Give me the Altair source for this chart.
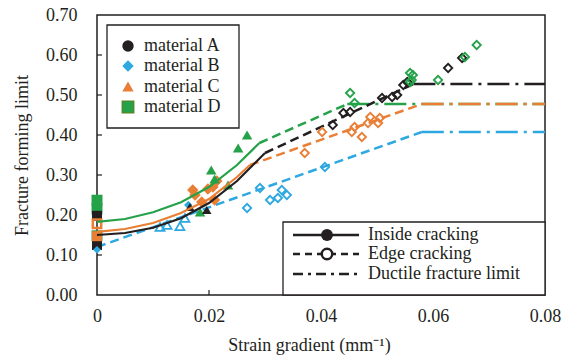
import altair as alt
import pandas as pd

FONT = "Liberation Serif"
BLACK = "#231F20"
BLUE = "#2DA8E0"
ORANGE = "#E97E35"
GREEN = "#25A249"

# ---- Inside cracking (solid curves) ----
a_in_x = [0, 0.005, 0.01, 0.015, 0.02, 0.025, 0.03]
a_in_y = [0.150, 0.155, 0.168, 0.192, 0.230, 0.285, 0.355]
c_in_x = [0, 0.005, 0.01, 0.015, 0.02, 0.025, 0.0273]
c_in_y = [0.158, 0.165, 0.180, 0.205, 0.240, 0.295, 0.325]
d_in_x = [0, 0.005, 0.01, 0.015, 0.02, 0.025, 0.029]
d_in_y = [0.183, 0.190, 0.207, 0.232, 0.270, 0.325, 0.380]

# ---- Edge cracking (dashed lines) ----
a_edge_x = [0.03, 0.0565]
a_edge_y = [0.355, 0.5275]
b_edge_x = [0.0, 0.058]
b_edge_y = [0.120, 0.4075]
c_edge_x = [0.0273, 0.058]
c_edge_y = [0.325, 0.4775]
d_edge_x = [0.029, 0.0447]
d_edge_y = [0.380, 0.4775]

# ---- Ductile fracture limit (dash-dot) ----
a_lim_x = [0.0565, 0.08]
a_lim_y = [0.5275, 0.5275]
b_lim_x = [0.058, 0.08]
b_lim_y = [0.4075, 0.4075]
c_lim_x = [0.058, 0.08]
c_lim_y = [0.4775, 0.4775]
d_lim_x = [0.0447, 0.08]
d_lim_y = [0.4775, 0.4775]

# ---- Markers at zero strain gradient ----
d_zero_y = [0.237, 0.215, 0.148]
a_zero_y = [0.198, 0.125]
c_zero_open_y = [0.178]
c_zero_y = [0.147]
b_zero_y = [0.113]

# ---- Inside cracking markers ----
c_in_px = [0.0171, 0.0175, 0.0187, 0.0198, 0.0210, 0.0214, 0.0207]
c_in_py = [0.2625, 0.250, 0.2325, 0.265, 0.2375, 0.285, 0.270]
d_in_px = [0.0184, 0.0204, 0.0210, 0.0234, 0.0252, 0.0268]
d_in_py = [0.2075, 0.3125, 0.290, 0.275, 0.3675, 0.400]
a_in_px = [0.0166, 0.0196]
a_in_py = [0.220, 0.2125]
b_in_px = [0.01125, 0.0125, 0.0148, 0.0157]
b_in_py = [0.170, 0.175, 0.172, 0.1925]
b_in_fx = [0.0163]
b_in_fy = [0.225]

# ---- Edge cracking markers ----
b_ed_x = [0.0268, 0.0291, 0.0309, 0.0323, 0.0330, 0.0339, 0.0407]
b_ed_y = [0.2175, 0.2675, 0.2375, 0.2425, 0.2625, 0.250, 0.320]
c_ed_x = [0.0371, 0.0402, 0.0455, 0.0460, 0.0473, 0.0484, 0.0488, 0.0502, 0.0505]
c_ed_y = [0.355, 0.4075, 0.4075, 0.420, 0.395, 0.430, 0.445, 0.430, 0.4425]
a_ed_x = [0.0421, 0.0440, 0.0452, 0.0509, 0.0527, 0.0536, 0.0547, 0.0554, 0.0627, 0.0652]
a_ed_y = [0.425, 0.455, 0.4575, 0.4925, 0.495, 0.500, 0.525, 0.5325, 0.5675, 0.5925]
d_ed_x = [0.0452, 0.0460, 0.0559, 0.0562, 0.0564, 0.0559, 0.0609, 0.0657, 0.0678]
d_ed_y = [0.505, 0.480, 0.555, 0.5375, 0.550, 0.5325, 0.5375, 0.595, 0.625]

# ---- Legends ----
mat_labels = ["material A", "material B", "material C", "material D"]
mat_colors = [BLACK, BLUE, ORANGE, GREEN]
mat_shapes = ["circle", "diamond", "triangle-up", "square"]
type_labels = ["Inside cracking", "Edge cracking", "Ductile fracture limit"]

x_tick_values = [0, 0.02, 0.04, 0.06, 0.08]
y_tick_values = [0, 0.1, 0.2, 0.3, 0.4, 0.5, 0.6, 0.7]
y_ticks = [0.1, 0.2, 0.3, 0.4, 0.5, 0.6]
x_ticks = [0.02, 0.04, 0.06]

W, H = 448, 280
xs = alt.Scale(domain=[0, 0.08], nice=False)
ys = alt.Scale(domain=[0, 0.7], nice=False)

AX = dict(grid=False, domain=False, ticks=False, labelFont=FONT, labelFontSize=18,
          labelColor=BLACK, titleFont=FONT, titleFontSize=18, titleColor=BLACK,
          titleFontWeight="normal", labelOverlap=False, labelFlush=False)

X_AXIS = alt.Axis(values=x_tick_values, labelPadding=12, titlePadding=11,
                  titleX=212, titleAlign="center",
                  labelExpr="datum.value == 0 ? '0' : format(datum.value, '.2f')", **AX)
Y_AXIS = alt.Axis(values=y_tick_values, format=".2f", labelPadding=20, titlePadding=14, **AX)


def df(x, y):
    return pd.DataFrame({"x": x, "y": y})


def enc_xy():
    return dict(
        x=alt.X("x:Q", scale=xs, axis=X_AXIS, title="Strain gradient (mm\u207b\u00b9)"),
        y=alt.Y("y:Q", scale=ys, axis=Y_AXIS, title="Fracture forming limit"),
    )


def line(x, y, color, dash=None, width=2.2):
    kw = dict(color=color, strokeWidth=width)
    if dash is not None:
        kw["strokeDash"] = dash
    return alt.Chart(df(x, y)).mark_line(**kw).encode(**enc_xy())


def pts(x, y, color, shape, filled=True, size=110, sw=1.8):
    if filled:
        m = alt.Chart(df(x, y)).mark_point(shape=shape, filled=True, color=color, size=size, opacity=1)
    else:
        m = alt.Chart(df(x, y)).mark_point(shape=shape, filled=False, color=color, size=size,
                                           strokeWidth=sw, opacity=1)
    return m.encode(**enc_xy())


DASH = [9, 5]
DASHDOT = [22, 6, 3, 6]

layers = []
# ductile limits
layers += [line(a_lim_x, a_lim_y, BLACK, DASHDOT, 2.4), line(b_lim_x, b_lim_y, BLUE, DASHDOT, 2.4),
           line(d_lim_x, d_lim_y, GREEN, DASHDOT, 2.4), line(c_lim_x, c_lim_y, ORANGE, DASHDOT, 2.4)]
# edge dashed
layers += [line(b_edge_x, b_edge_y, BLUE, DASH, 2.5), line(c_edge_x, c_edge_y, ORANGE, DASH, 2.5),
           line(a_edge_x, a_edge_y, BLACK, DASH, 2.5), line(d_edge_x, d_edge_y, GREEN, DASH, 2.5)]
# markers
zero = [0.0]
layers += [
    pts(zero * len(d_zero_y), d_zero_y, GREEN, "square", size=120),
    pts(zero * len(a_zero_y), a_zero_y, BLACK, "square", size=100),
    pts(zero * len(c_zero_y), c_zero_y, ORANGE, "square", size=100),
    pts(zero * len(c_zero_open_y), c_zero_open_y, ORANGE, "square", filled=False, size=70, sw=2.5),
    pts(zero * len(b_zero_y), b_zero_y, BLUE, "diamond", size=60),
    pts(b_in_px, b_in_py, BLUE, "triangle-up", filled=False, size=80),
    pts(b_in_fx, b_in_fy, BLUE, "diamond", size=70),
    pts(c_in_px, c_in_py, ORANGE, "diamond", size=130),
    pts(d_in_px, d_in_py, GREEN, "triangle-up", size=110),
    pts(a_in_px, a_in_py, BLACK, "triangle-up", size=90),
    pts(b_ed_x, b_ed_y, BLUE, "diamond", filled=False, size=70),
    pts(c_ed_x, c_ed_y, ORANGE, "diamond", filled=False, size=70),
    pts(a_ed_x, a_ed_y, BLACK, "diamond", filled=False, size=70),
    pts(d_ed_x, d_ed_y, GREEN, "diamond", filled=False, size=70),
]
# solid inside cracking curves
layers += [line(c_in_x, c_in_y, ORANGE, None, 2.2), line(a_in_x, a_in_y, BLACK, None, 2.2),
           line(d_in_x, d_in_y, GREEN, None, 2.2)]

# tick marks (inward)
xt = alt.Chart(pd.DataFrame({"x": x_ticks})).mark_rule(color=BLACK, strokeWidth=1.2).encode(
    x=alt.X("x:Q", scale=xs, axis=X_AXIS), y=alt.value(H), y2=alt.value(H - 5))
yt = alt.Chart(pd.DataFrame({"y": y_ticks})).mark_rule(color=BLACK, strokeWidth=1.2).encode(
    y=alt.Y("y:Q", scale=ys, axis=Y_AXIS), x=alt.value(0), x2=alt.value(5))
layers += [xt, yt]

one = pd.DataFrame({"k": [0]})
# legend 1 (materials)
L1x0, L1x1, L1y0, L1y1 = 10, 142, 10, 113
layers.append(alt.Chart(one).mark_rect(fill="white", stroke=BLACK, strokeWidth=1.3).encode(
    x=alt.value(L1x0), x2=alt.value(L1x1), y=alt.value(L1y0), y2=alt.value(L1y1)))
row_y = [31, 51, 71.5, 92]
for lab, col, shp, yy in zip(mat_labels, mat_colors, mat_shapes, row_y):
    kw = dict(shape=shp, filled=True, color=col, size=130, opacity=1)
    if shp == "square":
        kw.update(stroke="#4D8A2E", strokeWidth=1.5)
    layers.append(alt.Chart(one).mark_point(**kw).encode(x=alt.value(31), y=alt.value(yy)))
    layers.append(alt.Chart(pd.DataFrame({"t": [lab]})).mark_text(
        font=FONT, fontSize=18, color=BLACK, align="left", baseline="middle").encode(
        x=alt.value(47), y=alt.value(yy), text="t:N"))

# legend 2 (crack types)
layers.append(alt.Chart(one).mark_rect(fill="white", stroke=BLACK, strokeWidth=1.3).encode(
    x=alt.value(186), x2=alt.value(W), y=alt.value(207), y2=alt.value(H)))
ty = [220, 239, 259]
dashes = [None, [7, 5], [10, 5, 3, 5]]
for lab, yy, ds in zip(type_labels, ty, dashes):
    kw = dict(color=BLACK, strokeWidth=2.5)
    if ds is not None:
        kw["strokeDash"] = ds
    layers.append(alt.Chart(one).mark_rule(**kw).encode(
        x=alt.value(196), x2=alt.value(262), y=alt.value(yy)))
    layers.append(alt.Chart(pd.DataFrame({"t": [lab]})).mark_text(
        font=FONT, fontSize=18, color=BLACK, align="left", baseline="middle").encode(
        x=alt.value(271), y=alt.value(yy), text="t:N"))
layers.append(alt.Chart(one).mark_point(shape="circle", filled=True, color=BLACK, size=140, opacity=1).encode(
    x=alt.value(230), y=alt.value(ty[0])))
layers.append(alt.Chart(one).mark_point(shape="circle", filled=True, fill="white", stroke=BLACK,
                                        strokeWidth=2.5, size=110, opacity=1).encode(
    x=alt.value(230), y=alt.value(ty[1])))

chart = alt.layer(*layers).properties(
    width=W, height=H,
    autosize=alt.AutoSizeParams(type="none"),
    padding={"left": 97, "top": 15, "right": 26, "bottom": 61},
).configure(font=FONT).configure_view(stroke=BLACK, strokeWidth=1.5).configure_axis(
    grid=False, domain=False, ticks=False,
    labelFont=FONT, labelFontSize=18, labelColor=BLACK,
    titleFont=FONT, titleFontSize=18, titleColor=BLACK, titleFontWeight="normal",
    labelOverlap=False, labelFlush=False,
)

chart.save("out.html", embed_options={"renderer": "svg", "actions": False})
